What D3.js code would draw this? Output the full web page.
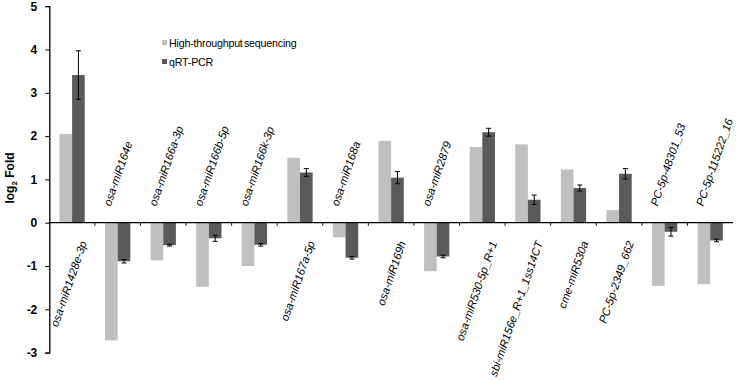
<!DOCTYPE html>
<html>
<head>
<meta charset="utf-8">
<script src="https://cdn.jsdelivr.net/npm/d3@7"></script>
<style>
body { margin: 0; background: #fff; }
text { font-family: Arial, "Liberation Sans", sans-serif; }
</style>
</head>
<body>
<div id="chart"></div>
<script>
var categories = ["osa-miR1428e-3p", "osa-miR164e", "osa-miR166a-3p", "osa-miR166b-5p", "osa-miR166k-3p",
	"osa-miR167a-5p", "osa-miR168a", "osa-miR169h", "osa-miR2879", "osa-miR530-5p_R+1",
	"sbi-miR156e_R+1_1ss14CT", "cme-miR530a", "PC-5p-2349_662", "PC-5p-48301_53", "PC-5p-115222_16"]
var seqValues = [2.05, -2.72, -0.87, -1.48, -1.0, 1.5, -0.34, 1.89, -1.12, 1.75, 1.81, 1.23, 0.29, -1.46, -1.42]
var qpcrValues = [3.41, -0.89, -0.52, -0.36, -0.51, 1.16, -0.81, 1.04, -0.78, 2.09, 0.53, 0.8, 1.13, -0.21, -0.41]
var qpcrErrors = [0.56, 0.04, 0.02, 0.07, 0.03, 0.09, 0.03, 0.14, 0.03, 0.09, 0.11, 0.07, 0.12, 0.1, 0.03]
var yTicks = [-3, -2, -1, 0, 1, 2, 3, 4, 5]
var seriesNames = ["High-throughput sequencing", "qRT-PCR"]
var colors = ["#c0c0c0", "#5a5a5a"]

var width = 737, height = 380
var svg = d3.select("#chart").append("svg")
	.attr("width", width)
	.attr("height", height)

var y = d3.scaleLinear().domain([-3, 5]).range([352.6, 6.2])
var x0 = d3.scaleBand().domain(categories).range([49.3, 733]).paddingInner(0.445).paddingOuter(0.2225)
var x1 = d3.scaleBand().domain([0, 1]).range([0, x0.bandwidth()])
var step = x0.step()

var rows = categories.map(function(c, i){
	return {name: c, vals: [seqValues[i], qpcrValues[i]], err: qpcrErrors[i]}
})

// bars
var groups = svg.selectAll(".grp")
	.data(rows)
	.enter().append("g")
	.attr("class", "grp")
	.attr("transform", function(d){ return "translate(" + x0(d.name) + ",0)" })

groups.selectAll("rect")
	.data(function(d){ return d.vals })
	.enter().append("rect")
	.attr("x", function(d, i){ return x1(i) })
	.attr("width", x1.bandwidth())
	.attr("y", function(d){ return y(Math.max(0, d)) })
	.attr("height", function(d){ return Math.abs(y(d) - y(0)) })
	.attr("fill", function(d, i){ return colors[i] })

// error bars on qRT-PCR
var ex = x1(1) + x1.bandwidth()/2
var eb = groups.append("g").attr("stroke", "#000").attr("stroke-width", 1)
eb.append("line")
	.attr("x1", ex).attr("x2", ex)
	.attr("y1", function(d){ return y(d.vals[1] + d.err) })
	.attr("y2", function(d){ return y(d.vals[1] - d.err) })
eb.selectAll(".cap")
	.data(function(d){ return [d.vals[1] + d.err, d.vals[1] - d.err] })
	.enter().append("line")
	.attr("class", "cap")
	.attr("x1", ex - 2.5).attr("x2", ex + 2.5)
	.attr("y1", function(d){ return y(d) }).attr("y2", function(d){ return y(d) })

// y axis
var yAxis = svg.append("g")
	.attr("transform", "translate(49.3,0)")
	.call(d3.axisLeft(y).tickValues(yTicks).tickSize(4).tickPadding(8).tickFormat(function(d){ return String(d) }))
yAxis.select(".domain").attr("stroke", "#000").attr("stroke-width", 1.3)
yAxis.selectAll("text").attr("font-size", 12).attr("font-weight", "bold").attr("fill", "#000")
	.attr("font-family", "Arial, 'Liberation Sans', sans-serif")

// zero line with category ticks
var xAxis = svg.append("g")
	.attr("transform", "translate(0," + y(0) + ")")
xAxis.append("line")
	.attr("x1", 49.3).attr("x2", 733)
	.attr("stroke", "#000").attr("stroke-width", 1.3)
xAxis.selectAll(".xt")
	.data(categories.slice(1))
	.enter().append("line")
	.attr("class", "xt")
	.attr("x1", function(d){ return x0(d) - x0.paddingOuter() * step })
	.attr("x2", function(d){ return x0(d) - x0.paddingOuter() * step })
	.attr("y1", 0).attr("y2", 3)
	.attr("stroke", "#000")

// category labels: above zero line for negative, below for positive
svg.selectAll(".lab")
	.data(rows)
	.enter().append("text")
	.attr("class", "lab")
	.attr("font-size", 11.3)
	.attr("font-style", "italic")
	.attr("fill", "#000")
	.attr("text-anchor", function(d){ return d.vals[1] < 0 ? "start" : "end" })
	.attr("transform", function(d){
		var cx = x0(d.name) + x0.bandwidth()/2
		if (d.vals[1] < 0) return "translate(" + (cx - 7) + "," + (y(0) - 16) + ") rotate(-71)"
		return "translate(" + (cx + 15) + "," + (y(0) + 20) + ") rotate(-71)"
	})
	.text(function(d){ return d.name })

// y title
var yt = svg.append("text")
	.attr("transform", "translate(14,178) rotate(-90)")
	.attr("text-anchor", "middle")
	.attr("font-size", 12)
	.attr("font-weight", "bold")
yt.append("tspan").text("log")
yt.append("tspan").attr("font-size", 8).attr("dy", 3).text("2")
yt.append("tspan").attr("dy", -3).text(" Fold")

// legend
var legend = svg.selectAll(".leg")
	.data(seriesNames)
	.enter().append("g")
	.attr("class", "leg")
	.attr("transform", function(d, i){ return "translate(162," + (43 + i * 19) + ")" })
legend.append("rect")
	.attr("x", 0).attr("y", -3).attr("width", 5).attr("height", 5)
	.attr("fill", function(d, i){ return colors[i] })
legend.append("text")
	.attr("x", 7).attr("y", 4)
	.attr("font-size", 10.7)
	.attr("letter-spacing", -0.2)
	.attr("word-spacing", -1.5)
	.text(function(d){ return d })
</script>
</body>
</html>
